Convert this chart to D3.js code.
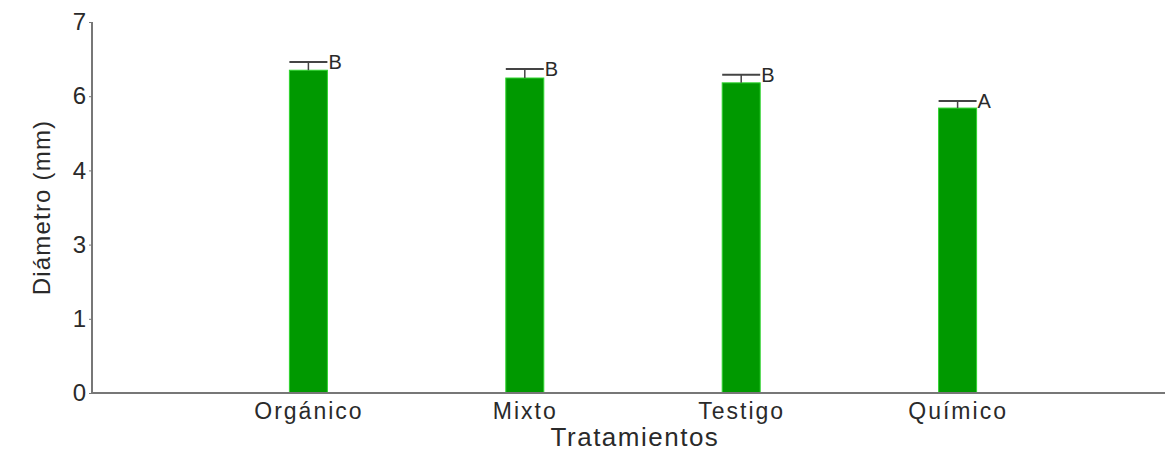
<!DOCTYPE html>
<html>
<head>
<meta charset="utf-8">
<script src="https://cdn.jsdelivr.net/npm/d3@7"></script>
<style>
  html, body { margin: 0; padding: 0; background: #fff; }
  svg { display: block; }
  text { font-family: "Liberation Sans", Arial, sans-serif; fill: #2a2a2a; }
</style>
</head>
<body>
<svg id="chart" width="1175" height="454"></svg>
<script>
// ---- data ----
const categories = ["Orgánico", "Mixto", "Testigo", "Químico"];
const means = [6.35, 6.245, 6.18, 5.68];
const errors = [0.11, 0.12, 0.11, 0.19];
const letters = ["B", "B", "B", "A"];
const yTickValues = [0, 1, 3, 4, 6, 7];
const yLabel = "Diámetro (mm)";
const xLabel = "Tratamientos";

// ---- layout ----
const svg = d3.select("#chart");
const mLeft = 92, mRight = 1174, axisRight = 1165, mTop = 22, mBottom = 393;
const barW = 38;
const font = "'Liberation Sans', Arial, sans-serif";

const x = d3.scalePoint().domain(categories).range([mLeft, mRight]).padding(1);
const step = (mBottom - mTop) / (yTickValues.length - 1);
const y = d3.scaleLinear()
  .domain(yTickValues)
  .range(yTickValues.map((d, i) => mBottom - i * step));

// bars
const g = svg.append("g");
g.selectAll("rect.bar").data(categories).join("rect")
  .attr("class", "bar")
  .attr("x", d => x(d) - barW / 2)
  .attr("y", (d, i) => y(means[i]))
  .attr("width", barW)
  .attr("height", (d, i) => y(0) - y(means[i]))
  .attr("fill", "#009900")
  .attr("stroke", "#2fd42f")
  .attr("stroke-width", 1);

// error bars
g.selectAll("line.stem").data(categories).join("line")
  .attr("class", "stem")
  .attr("x1", d => x(d)).attr("x2", d => x(d))
  .attr("y1", (d, i) => y(means[i]))
  .attr("y2", (d, i) => y(means[i] + errors[i]))
  .attr("stroke", "#444").attr("stroke-width", 1.5);
g.selectAll("line.cap").data(categories).join("line")
  .attr("class", "cap")
  .attr("x1", d => x(d) - barW / 2)
  .attr("x2", d => x(d) + barW / 2)
  .attr("y1", (d, i) => y(means[i] + errors[i]))
  .attr("y2", (d, i) => y(means[i] + errors[i]))
  .attr("stroke", "#444").attr("stroke-width", 2);
g.selectAll("text.letter").data(categories).join("text")
  .attr("class", "letter")
  .attr("x", d => x(d) + barW / 2 + 1)
  .attr("y", (d, i) => y(means[i] + errors[i]))
  .attr("dy", "0.36em")
  .style("font-size", "20px")
  .text((d, i) => letters[i]);

// y axis
const yAxis = d3.axisLeft(y).tickValues(yTickValues).tickFormat(d3.format("d")).tickSize(3).tickPadding(3);
const ya = svg.append("g").attr("transform", `translate(${mLeft},0)`).call(yAxis);
ya.select(".domain").remove();
ya.selectAll(".tick line").attr("stroke", "#777");
ya.selectAll(".tick text").style("font-size", "24px").style("font-family", font).attr("fill", "#2a2a2a");
svg.append("line").attr("x1", mLeft).attr("x2", mLeft).attr("y1", mTop).attr("y2", mBottom)
  .attr("stroke", "#777").attr("stroke-width", 2);

// x axis
const xAxis = d3.axisBottom(x).tickSize(0).tickPadding(10);
const xa = svg.append("g").attr("transform", `translate(0,${mBottom})`).call(xAxis);
xa.select(".domain").remove();
xa.selectAll(".tick text").style("font-size", "23px").style("letter-spacing", "2px")
  .style("font-family", font).attr("fill", "#2a2a2a");
svg.append("line").attr("x1", mLeft).attr("x2", axisRight).attr("y1", mBottom).attr("y2", mBottom)
  .attr("stroke", "#777").attr("stroke-width", 2);

// axis titles
svg.append("text")
  .attr("x", 635).attr("y", 446)
  .attr("text-anchor", "middle")
  .style("font-size", "26px").style("letter-spacing", "1.5px")
  .text(xLabel);
svg.append("text")
  .attr("transform", `translate(50,${(mTop + mBottom) / 2}) rotate(-90)`)
  .attr("text-anchor", "middle")
  .style("font-size", "24px").style("letter-spacing", "1.2px")
  .text(yLabel);
</script>
</body>
</html>
